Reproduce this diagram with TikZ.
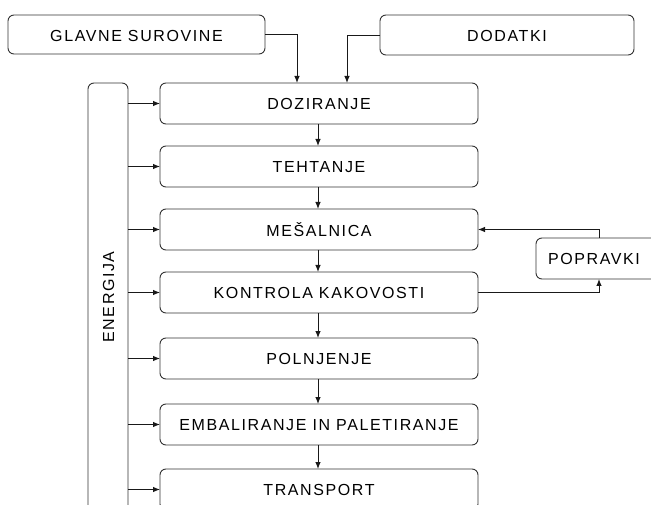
\documentclass[tikz,border=0pt]{standalone}
\usepackage{fontspec}
\setmainfont{Liberation Sans}[LetterSpace=10]
\usetikzlibrary{arrows.meta}
\begin{document}
\begin{tikzpicture}[x=1pt,y=-1pt,
  box/.style={draw=black!80, line width=0.9pt, rounded corners=6pt},
  lbl/.style={font=\fontsize{16}{18}\selectfont, text=black, inner sep=0pt},
  link/.style={draw=black!90, line width=0.9pt, -{Latex[length=7pt,width=5.5pt]}}]
\useasboundingbox (0,0) rectangle (651,505);
\clip (0,0) rectangle (651,505);
% inputs at the top
\draw[box] (8,15) rectangle (265,54);
\node[lbl] (glavne) at (136.5,35.5) {GLAVNE SUROVINE};
\coordinate (glavneE) at (265,34);
\draw[box] (380,15) rectangle (634,55);
\node[lbl] (dodatki) at (507,35.5) {DODATKI};
\coordinate (dodatkiW) at (380,35);
% energy column
\draw[box] (88,83) rectangle (128,530);
\node[lbl, rotate=90] (energija) at (108.5,297) {ENERGIJA};
% process steps
\foreach \name/\top/\txt in {doz/83/DOZIRANJE, teh/146/TEHTANJE, mes/209/MEŠALNICA,
    kon/272/KONTROLA KAKOVOSTI, pol/338/POLNJENJE,
    emb/404/EMBALIRANJE IN PALETIRANJE, tra/469/TRANSPORT}{
  \draw[box] (160,\top) rectangle (478,\top+41);
  \node[lbl] (\name) at (319,\top+21) {\txt};
  \coordinate (\name N) at (318,\top);
  \coordinate (\name S) at (318,\top+41);
  \coordinate (\name W) at (160,\top+20.5);
  \coordinate (\name E) at (478,\top+20.5);
  \coordinate (\name en) at (128,\top+20.5);
  \draw[link] (\name en) -- (\name W);
}
% correction loop
\draw[box] (536,238) rectangle (680,279);
\node[lbl] (popravki) at (594,259) {POPRAVKI};
\coordinate (popN) at (599,238);
\coordinate (popS) at (599,279);
% connectors
\draw[link] (glavneE) -| (297,83);
\draw[link] (dodatkiW) -| (347,83);
\draw[link] (dozS) -- (tehN);
\draw[link] (tehS) -- (mesN);
\draw[link] (mesS) -- (konN);
\draw[link] (konS) -- (polN);
\draw[link] (polS) -- (embN);
\draw[link] (embS) -- (traN);
\draw[link] (popN) |- (mesE);
\draw[link] (konE) -| (popS);
\end{tikzpicture}
\end{document}
